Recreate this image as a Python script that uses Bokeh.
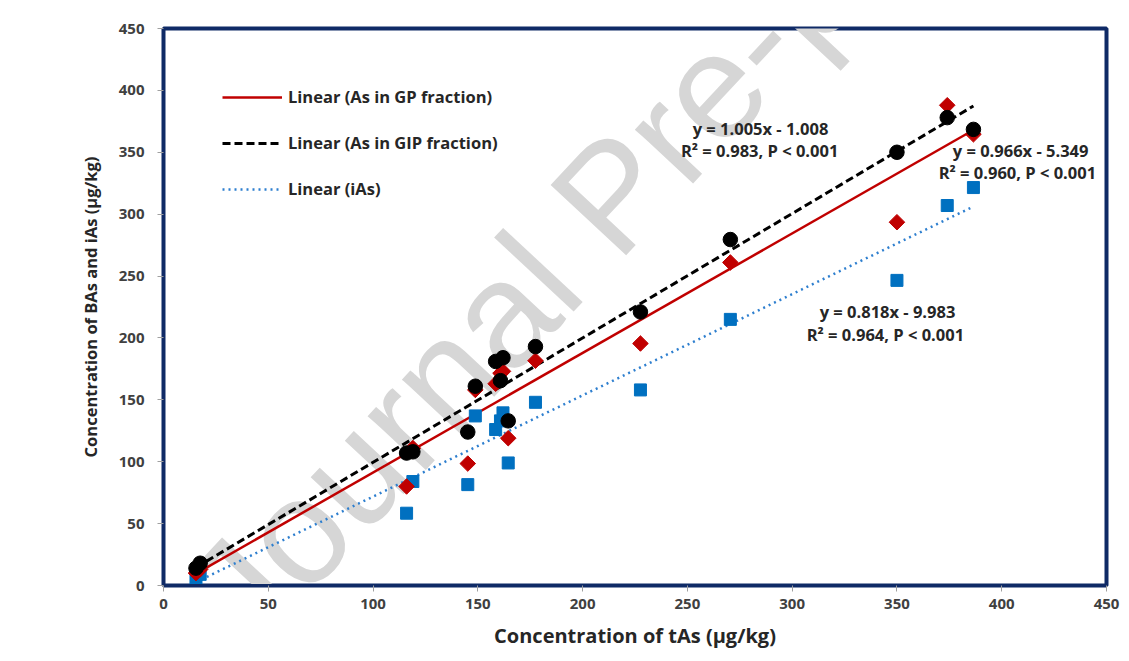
from bokeh.plotting import figure
from bokeh.models import Range1d, Label, Legend, LegendItem, ColumnDataSource, FixedTicker
from bokeh.embed import file_html
from bokeh.resources import INLINE

# ---- data ----
tAs = [15.5, 17.5, 116, 119, 145.2, 148.8, 158.5, 160.8, 162, 164.5, 177.5, 227.6, 270.5, 350, 374, 386.5]
gip = [14, 18, 107, 108, 124, 161, 181, 165.5, 184, 133, 193, 221, 279.5, 350, 378, 368.5]   # black circles
gp = [10, 13, 80, 111, 98.5, 158, 163, 171.5, 173, 119, 181.6, 195.5, 261, 293.5, 388, 364.5]  # red diamonds
ias = [5, 9, 58.4, 84, 81.5, 137, 126, 133, 139.5, 99, 148, 158, 215, 246.5, 307, 321.5]       # blue squares

fit_names = ["Linear (As in GP fraction)", "Linear (As in GIP fraction)", "Linear (iAs)"]
fit_slopes = [0.966, 1.005, 0.818]
fit_intercepts = [-5.349, -1.008, -9.983]
fit_eq = ["y = 0.966x - 5.349", "y = 1.005x - 1.008", "y = 0.818x - 9.983"]
fit_stats = ["R\u00b2 = 0.960,  P < 0.001", "R\u00b2 = 0.983,  P < 0.001", "R\u00b2 = 0.964,  P < 0.001"]

x_ticks = [0, 50, 100, 150, 200, 250, 300, 350, 400, 450]
y_ticks = [0, 50, 100, 150, 200, 250, 300, 350, 400, 450]

FONT = "Open Sans"
NAVY = "#0f2a66"
TXT = "#262626"

p = figure(width=1121, height=653, output_backend="svg", toolbar_location=None,
           x_range=Range1d(0, 450), y_range=Range1d(0, 450),
           min_border_left=163, min_border_right=15, min_border_top=28, min_border_bottom=68)
p.grid.visible = False
p.background_fill_color = "white"
p.border_fill_color = "white"
p.outline_line_color = NAVY
p.outline_line_width = 4

# watermark
wm = Label(x=25, y=-27, text="Journal Pre-proof", angle=47, angle_units="deg",
           text_font="Liberation Sans", text_font_size="150px", text_color="#d6d6d6",
           text_align="left", text_baseline="alphabetic", level="underlay")
p.add_layout(wm)

for ax in (p.xaxis[0], p.yaxis[0]):
    ax.axis_line_color = NAVY
    ax.axis_line_width = 3
    ax.major_tick_line_color = "#a0a0a0"
    ax.major_tick_out = 6
    ax.major_tick_in = 0
    ax.minor_tick_line_color = None
    ax.major_label_text_font = FONT
    ax.major_label_text_font_style = "bold"
    ax.major_label_text_font_size = "15px"
    ax.major_label_text_color = "#404040"
    ax.axis_label_text_font = FONT
    ax.axis_label_text_font_style = "bold"
    ax.axis_label_text_color = TXT

p.xaxis.ticker = FixedTicker(ticks=x_ticks)
p.yaxis.ticker = FixedTicker(ticks=y_ticks)
p.xaxis.axis_label = "Concentration of tAs (\u03bcg/kg)"
p.yaxis.axis_label = "Concentration of BAs and iAs (\u03bcg/kg)"
p.xaxis.axis_label_text_font_size = "20px"
p.yaxis.axis_label_text_font_size = "16.5px"
p.xaxis.major_label_standoff = 7
p.yaxis.major_label_standoff = 13
p.xaxis.axis_label_standoff = 10
p.yaxis.axis_label_standoff = 14

# trend lines from fitted coefficients, over the observed x range
xmin, xmax = min(tAs), max(tAs)
styles = [dict(line_color="#c00000", line_width=2.5, line_dash="solid"),
          dict(line_color="black", line_width=3, line_dash="8 4"),
          dict(line_color="#2e7fcf", line_width=2.5, line_dash="2 4")]
line_rs = []
for name, m, b, st in zip(fit_names, fit_slopes, fit_intercepts, styles):
    src = ColumnDataSource(dict(x=[xmin, xmax], y=[m * xmin + b, m * xmax + b]))
    line_rs.append(p.line("x", "y", source=src, **st))

src = ColumnDataSource(dict(x=tAs, gip=gip, gp=gp, ias=ias))
p.scatter("x", "ias", source=src, marker="square", size=12, fill_color="#0070c0", line_color="#0070c0")
p.scatter("x", "gp", source=src, marker="square", angle=0.7854, size=11, fill_color="#c00000", line_color="#c00000")
p.scatter("x", "gip", source=src, marker="circle", size=14.5, fill_color="black", line_color="black")

legend = Legend(items=[LegendItem(label=n, renderers=[r]) for n, r in zip(fit_names, line_rs)],
                location=(59, 385), glyph_width=60, glyph_height=20, label_height=20,
                label_standoff=6, spacing=23, padding=0, margin=0,
                border_line_color=None, background_fill_alpha=0,
                label_text_font=FONT, label_text_font_style="bold",
                label_text_font_size="16.5px", label_text_color=TXT)
p.add_layout(legend, "center")

# equation annotations
ann_pos = [(409, 351.5, 408.5, 333.5), (284.9, 368.9, 285.5, 351.2), (345.5, 221, 345.5, 202.5)]
for eq, st, (x1, y1, x2, y2) in zip(fit_eq, fit_stats, ann_pos):
    for t, xx, yy in ((eq, x1, y1), (st, x2, y2)):
        p.add_layout(Label(x=xx, y=yy, text=t, text_align="center", text_baseline="middle",
                           text_font=FONT, text_font_style="bold", text_font_size="16.5px",
                           text_color=TXT))

open("out.html", "w").write(file_html(p, INLINE))
